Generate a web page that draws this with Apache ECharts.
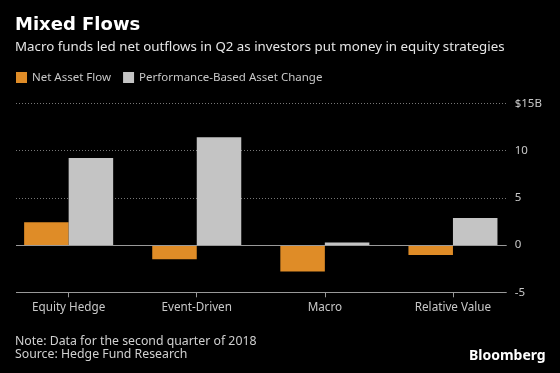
<!DOCTYPE html>
<html>
<head>
<meta charset="utf-8">
<script src="https://cdn.jsdelivr.net/npm/echarts@6/dist/echarts.min.js"></script>
<style>
html,body{margin:0;padding:0;background:#000;}
#c{width:560px;height:373px;}
</style>
</head>
<body>
<div id="c"></div>
<script>
const categories = ['Equity Hedge', 'Event-Driven', 'Macro', 'Relative Value'];
const netAssetFlow = [2.4, -1.5, -2.8, -1.05];
const performanceChange = [9.2, 11.4, 0.27, 2.85];
const yTicks = [-5, 0, 5, 10, 15];

const FONT = '"Noto Sans", sans-serif';
const chart = echarts.init(document.getElementById('c'));
const gridTop = 103.3, gridBottom = 80.7;

chart.setOption({
  backgroundColor: '#000',
  animation: false,
  textStyle: { fontFamily: FONT },
  legend: {
    left: 11, top: 66.5,
    itemWidth: 11, itemHeight: 11, itemGap: 12,
    icon: 'rect',
    textStyle: { color: '#c8c8c8', fontSize: 11.5, fontFamily: FONT },
    data: ['Net Asset Flow', 'Performance-Based Asset Change']
  },
  grid: [
    { left: 4.6, right: 43, top: gridTop, bottom: gridBottom },
    { left: 16, right: 53.3, top: gridTop, bottom: gridBottom }
  ],
  xAxis: [
    {
      type: 'category', gridIndex: 0, data: categories,
      axisLine: { show: false, onZero: false },
      axisTick: { show: true, alignWithLabel: true, length: 5, lineStyle: { color: '#999' } },
      axisLabel: { color: '#c8c8c8', fontSize: 11.7, margin: 9, fontFamily: FONT }
    },
    {
      type: 'category', gridIndex: 1, data: [''],
      axisLine: { show: false, onZero: false },
      axisTick: { show: false }, axisLabel: { show: false }
    }
  ],
  yAxis: [
    { type: 'value', gridIndex: 0, min: -5, max: 15, interval: 5, show: false },
    {
      type: 'value', gridIndex: 1, min: -5, max: 15, interval: 5, position: 'right',
      axisLine: { show: false }, axisTick: { show: false },
      axisLabel: {
        color: '#c8c8c8', fontSize: 11.5, margin: 8, align: 'left', fontFamily: FONT,
        formatter: v => (v === yTicks[yTicks.length - 1] ? '$' + v + 'B' : String(v))
      },
      splitLine: { show: true, lineStyle: { color: '#777', type: [1, 2], width: 1 } }
    }
  ],
  series: [
    {
      name: 'Net Asset Flow', type: 'bar', xAxisIndex: 0, yAxisIndex: 0,
      data: netAssetFlow, barGap: '0%', barCategoryGap: '30.5%',
      itemStyle: { color: '#df8c27' }, z: 1
    },
    {
      name: 'Performance-Based Asset Change', type: 'bar', xAxisIndex: 0, yAxisIndex: 0,
      data: performanceChange, barGap: '0%', barCategoryGap: '30.5%',
      itemStyle: { color: '#c4c4c4' }, z: 1
    },
    {
      name: 'refLines', type: 'line', xAxisIndex: 1, yAxisIndex: 1, data: [],
      silent: true, z: 5,
      markLine: {
        silent: true, symbol: 'none', label: { show: false },
        lineStyle: { color: '#999', type: 'solid', width: 1 },
        data: [{ yAxis: yTicks[1] }, { yAxis: yTicks[0] }]
      }
    }
  ],
  graphic: [
    { type: 'text', left: 15, top: 16, style: { text: 'Mixed Flows', fill: '#fff', font: 'bold 18px "DejaVu Sans", sans-serif' } },
    { type: 'text', left: 15, top: 41, style: { text: 'Macro funds led net outflows in Q2 as investors put money in equity strategies', fill: '#e6e6e6', font: '13.3px ' + FONT } },
    { type: 'text', left: 15, top: 334.5, style: { text: 'Note: Data for the second quarter of 2018\nSource: Hedge Fund Research', fill: '#d0d0d0', font: '12.3px ' + FONT, lineHeight: 13.6 } },
    { type: 'text', right: 14.3, top: 349, style: { text: 'Bloomberg', fill: '#fff', font: 'bold 14px ' + FONT } }
  ]
});
</script>
</body>
</html>
